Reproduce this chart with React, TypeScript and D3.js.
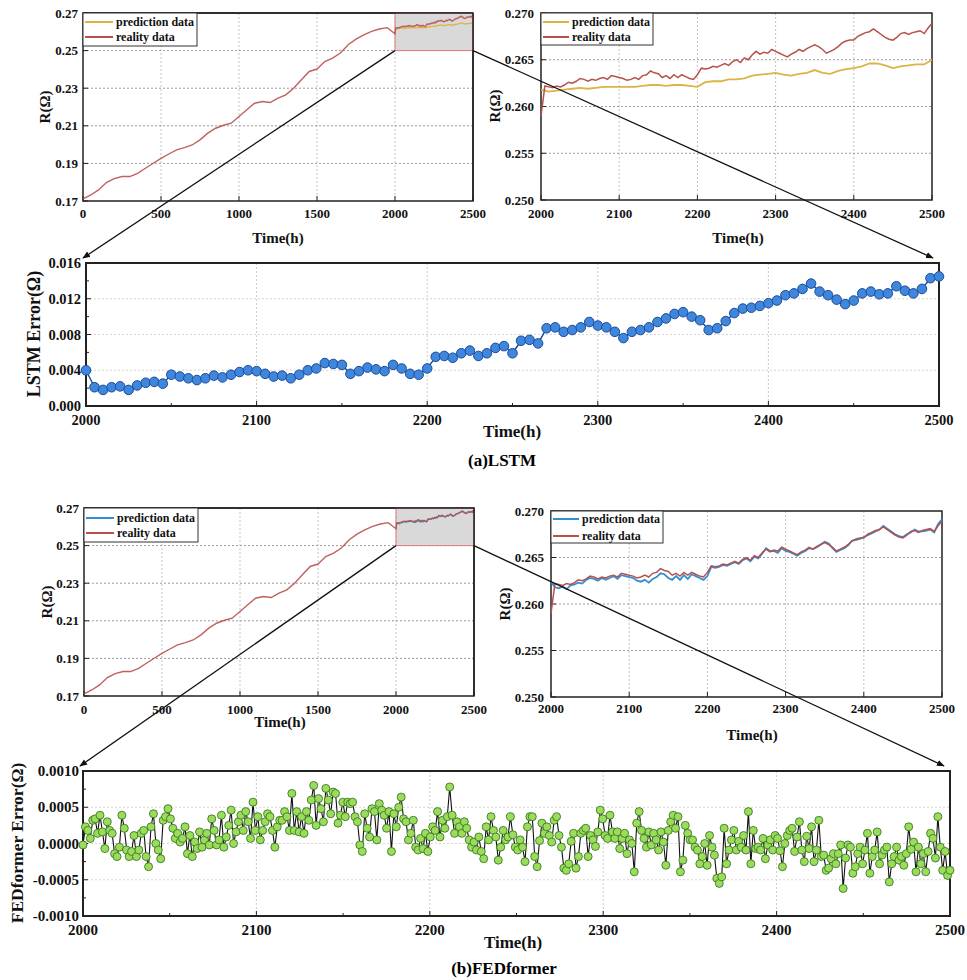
import * as d3 from 'd3';

// ---- data ----
// reality data, 0 .. 1950 h, one value every 50 h
const realityEarly = [
  0.1711, 0.1732, 0.1759, 0.1798, 0.1819, 0.1830, 0.1830, 0.1847, 0.1874, 0.1901,
  0.1927, 0.1950, 0.1972, 0.1984, 0.1998, 0.2025, 0.2061, 0.2087, 0.2103, 0.2114,
  0.2149, 0.2185, 0.2220, 0.2229, 0.2224, 0.2247, 0.2265, 0.2300, 0.2345, 0.2389,
  0.2402, 0.2442, 0.2460, 0.2487, 0.2531, 0.2561, 0.2584, 0.2602, 0.2615, 0.2622,
];

// reality data, 2000 .. 2500 h, every 5 h
const realityZoom = [
  0.2590, 0.2622, 0.2621, 0.2620, 0.2622, 0.2621, 0.2623, 0.2626, 0.2625, 0.2627,
  0.2630, 0.2629, 0.2627, 0.2629, 0.2628, 0.2630, 0.2631, 0.2629, 0.2633, 0.2632,
  0.2631, 0.2630, 0.2628, 0.2629, 0.2631, 0.2629, 0.2633, 0.2634, 0.2638, 0.2636,
  0.2635, 0.2631, 0.2633, 0.2630, 0.2634, 0.2631, 0.2634, 0.2632, 0.2630, 0.2629,
  0.2634, 0.2641, 0.2640, 0.2641, 0.2643, 0.2642, 0.2644, 0.2646, 0.2644, 0.2648,
  0.2650, 0.2647, 0.2652, 0.2650, 0.2655, 0.2659, 0.2656, 0.2658, 0.2657, 0.2661,
  0.2659, 0.2657, 0.2655, 0.2653, 0.2656, 0.2658, 0.2661, 0.2659, 0.2662, 0.2664,
  0.2666, 0.2664, 0.2661, 0.2657, 0.2659, 0.2661, 0.2664, 0.2668, 0.2670, 0.2671,
  0.2671, 0.2675, 0.2677, 0.2679, 0.2680, 0.2683, 0.2680, 0.2677, 0.2674, 0.2672,
  0.2671, 0.2674, 0.2678, 0.2679, 0.2677, 0.2679, 0.2680, 0.2681, 0.2678, 0.2684,
  0.2689,
];

// LSTM prediction, 2000 .. 2500 h, every 10 h
const lstmPred = [
  0.2618, 0.2616, 0.2617, 0.2618, 0.2619, 0.2620, 0.2619, 0.2620, 0.2621, 0.2621,
  0.2621, 0.2621, 0.2621, 0.2622, 0.2623, 0.2623, 0.2622, 0.2623, 0.2623, 0.2622,
  0.2621, 0.2626, 0.2627, 0.2627, 0.2629, 0.2629, 0.2630, 0.2633, 0.2634, 0.2635,
  0.2636, 0.2634, 0.2633, 0.2635, 0.2636, 0.2639, 0.2636, 0.2635, 0.2638, 0.2640,
  0.2641, 0.2643, 0.2646, 0.2646, 0.2644, 0.2641, 0.2643, 0.2644, 0.2645, 0.2645,
  0.2650,
];

// FEDformer prediction, 2000 .. 2500 h, every 5 h
const fedPred = [
  0.2624, 0.2618, 0.2617, 0.2619, 0.2616, 0.2620, 0.2621, 0.2623, 0.2622, 0.2626,
  0.2628, 0.2627, 0.2625, 0.2628, 0.2626, 0.2628, 0.2630, 0.2627, 0.2631, 0.2630,
  0.2629, 0.2628, 0.2625, 0.2624, 0.2626, 0.2623, 0.2627, 0.2629, 0.2633, 0.2632,
  0.2628, 0.2626, 0.2630, 0.2626, 0.2631, 0.2627, 0.2632, 0.2630, 0.2628, 0.2626,
  0.2630, 0.2640, 0.2639, 0.2640, 0.2642, 0.2641, 0.2643, 0.2645, 0.2643, 0.2647,
  0.2649, 0.2646, 0.2651, 0.2649, 0.2654, 0.2660, 0.2657, 0.2657, 0.2655, 0.2660,
  0.2657, 0.2656, 0.2654, 0.2652, 0.2655, 0.2657, 0.2660, 0.2659, 0.2661, 0.2664,
  0.2667, 0.2665, 0.2660, 0.2656, 0.2658, 0.2660, 0.2663, 0.2668, 0.2669, 0.2670,
  0.2672, 0.2674, 0.2676, 0.2678, 0.2680, 0.2684, 0.2681, 0.2678, 0.2675, 0.2673,
  0.2672, 0.2675, 0.2677, 0.2680, 0.2678, 0.2678, 0.2679, 0.2680, 0.2677, 0.2686,
  0.2691,
];

// LSTM error, 2000 .. 2500 h, every 5 h
const lstmError = [
  0.0040, 0.0021, 0.0018, 0.0021, 0.0022, 0.0018, 0.0023, 0.0026, 0.0027, 0.0025,
  0.0035, 0.0033, 0.0031, 0.0029, 0.0031, 0.0034, 0.0032, 0.0035, 0.0038, 0.0040,
  0.0039, 0.0036, 0.0033, 0.0034, 0.0031, 0.0035, 0.0040, 0.0042, 0.0048, 0.0047,
  0.0046, 0.0036, 0.0039, 0.0043, 0.0041, 0.0039, 0.0046, 0.0042, 0.0036, 0.0035,
  0.0042, 0.0055, 0.0056, 0.0054, 0.0059, 0.0062, 0.0056, 0.0059, 0.0065, 0.0067,
  0.0059, 0.0073, 0.0074, 0.0070, 0.0087, 0.0088, 0.0083, 0.0085, 0.0088, 0.0094,
  0.0090, 0.0088, 0.0083, 0.0076, 0.0083, 0.0085, 0.0088, 0.0094, 0.0098, 0.0103,
  0.0105, 0.0100, 0.0096, 0.0085, 0.0087, 0.0095, 0.0104, 0.0109, 0.0110, 0.0112,
  0.0115, 0.0118, 0.0124, 0.0126, 0.0131, 0.0137, 0.0128, 0.0124, 0.0119, 0.0114,
  0.0118, 0.0126, 0.0128, 0.0125, 0.0126, 0.0134, 0.0129, 0.0126, 0.0131, 0.0143,
  0.0145,
];

// FEDformer error in units of 1e-4 ohm, evenly spread over 2000 .. 2500 h
const fedErrorE4 = [
  -0.2, 2.3, 1.8, 0.7, 3.2, 3.4, 1.4, 3.9, 1.6, -0.7,
  3.0, 1.8, 1.4, -1.4, -1.8, -0.5, 3.9, 2.1, -0.9, -1.8, -1.1, 1.1,
  -1.8, -0.9, 1.4, 1.8, -1.8, -3.2, 2.3, 4.1, 0, -0.9, -2.1, 3.2, 3.7, 4.8,
  3.4, 2.1, 0.7, 1.4, 0.2, 0.7, 2.3, -1.4, 1.1, -1.8, 0.2, -0.7,
  1.6, -0.5, 0.5, 1.4, -0.2, 3.4, 1.8, -0.2, 0.5, 3.9, -0.5,
  0.9, 2.5, 4.6, 0, 1.6, 3.0, 3.9, 1.8, 4.4, 3.0, 0.7, 5.7,
  1.8, 3.7, 0.5, 1.8, 3.0, 4.1, 3.7, 1.8, -0.5, 2.3, 3.2,
  3.2, 4.4, 3.7, 1.8, 6.9, 1.8, 4.4, 1.6, 3.7, 1.4, 4.4, 3.2,
  6.0, 8.0, 2.5, 6.2, 4.8, 3.0, 7.6, 6.0, 4.1, 7.1, 6.9, 2.8,
  3.9, 5.7, 3.7, 5.7, 5.5, 5.7, 3.7, 3.0, -0.2, -1.1, 4.1,
  2.1, 0.9, 4.8, 4.4, 0.5, 5.5, 4.6, 3.9, 2.1, 4.4, -1.1, 4.1,
  2.3, 5.0, 6.4, 3.4, 3.0, 0.5, 1.4, 3.2, -0.5, -0.9, 0.7,
  -0.7, 1.4, -1.1, 0.9, 2.3, 1.8, 4.4, 0.9, 3.2, 2.1,
  3.7, 7.8, 3.9, 1.4, 3.0, 2.3, 1.4, 3.0, 2.1, 0.5,
  -0.5, 0.2, -0.9, 0.9, -1.1, -2.1, 2.3, 0.5,
  3.7, 1.8, 0.9, -2.3, -0.5, 1.8, 0.5, 0.9, 3.7, 1.2, -0.5, -0.9,
  0.5, -0.5, -2.5, 2.3, 3.7, 3.7, -1.8, -3.2, 0.4, 2.8, 1.4,
  2.3, 1.1, 0.2, 3.2, 3.7, 1.1, -0.5, -3.4, -3.7, -2.8, 0.3,
  1.4, -3.4, -1.8, 1.4, 1.8, 2.1, -1.8, 1.1, 0.5, -0.4, 1.6,
  4.6, 3.4, 1.1, 0.7, 3.9, 1.6, 0.7, 1.6, -0.7, 0.7,
  1.4, -1.4, 0.5, 0, -3.9, 2.8, 4.4, 1.8, 0.7, -0.5, 1.6,
  -0.2, 1.4, 0.5, -0.9, 1.6, 0.2, -3.0, 1.8, 3.0, 3.9, 2.1,
  3.7, -3.9, -2.3, 2.5, 1.4, 0.5, 0.5, -0.5, -0.9, -2.8, -1.8,
  0, -3.0, 1.1, -0.5, -1.6, -4.8, -5.5, -4.6, 2.1, -2.8, -0.9,
  0.5, 1.8, -0.9, 0.3, -0.5, 1.1, -0.9, 4.4, -2.8, 1.8, -0.7,
  -0.5, -0.9, 0.7, -2.1, -0.2, 0.5, -0.9, 1.1, 0.7, -1.0, -3.2,
  0, 1.1, 1.8, 2.1, -1.1, 0.9, 3.0, -0.9, -2.5, 1.0, -0.7,
  2.3, -2.5, -0.9, 3.2, -1.8, -1.6, -3.7, -3.4, -2.1, -1.4,
  -2.8, -1.4, -0.2, -6.2, -2.0, -0.2, -0.5, -4.1, -3.2, -1.4, -0.5,
  -2.8, -0.9, 1.4, -4.1, -1.8, -0.9, 1.6, -2.8, -1.6, -0.9, -0.5,
  -5.3, -2.8, -1.8, -0.5, -2.3, -1.8, -3.0, -1.4, 2.3, -0.8, 0.2,
  -3.9, -0.5, -2.8, -1.4, -3.9, -1.1, 1.4, 0.7, -2.0, 3.7,
  -0.5, -3.7, -1.1, -4.4, -3.7,
];

// ticks
const fullTimeTicks = [0, 500, 1000, 1500, 2000, 2500];
const fullRTicks = [0.17, 0.19, 0.21, 0.23, 0.25, 0.27];
const zoomTimeTicks = [2000, 2100, 2200, 2300, 2400, 2500];
const zoomRTicks = [0.25, 0.255, 0.26, 0.265, 0.27];
const errTimeMinor = [2050, 2150, 2250, 2350, 2450];
const lstmErrTicks = [0, 0.004, 0.008, 0.012, 0.016];
const lstmErrMinor = [0.002, 0.006, 0.01, 0.014];
const fedErrTicks = [-0.001, -0.0005, 0, 0.0005, 0.001];
const fedErrMinor = [-0.00075, -0.00025, 0.00025, 0.00075];

const FONT = '"Liberation Serif", "Times New Roman", serif';
const RED = '#b8504c';
const YELLOW = '#dcb444';
const BLUE = '#2f8fd2';

type Pt = { t: number; v: number };
type Box = { left: number; right: number; top: number; bottom: number };

const realityAll: Pt[] = [
  ...realityEarly.map((v, i) => ({ t: i * 50, v })),
  ...realityZoom.map((v, i) => ({ t: 2000 + i * 5, v })),
];
const realityTail: Pt[] = realityZoom.map((v, i) => ({ t: 2000 + i * 5, v }));
const lstmPredPts: Pt[] = lstmPred.map((v, i) => ({ t: 2000 + i * 10, v }));
const fedPredPts: Pt[] = fedPred.map((v, i) => ({ t: 2000 + i * 5, v }));
const lstmErrPts: Pt[] = lstmError.map((v, i) => ({ t: 2000 + i * 5, v }));
const fedErrPts: Pt[] = fedErrorE4.map((v, i) => ({
  t: 2000 + (i * 500) / (fedErrorE4.length - 1),
  v: v * 1e-4,
}));

function scales(box: Box, xd: [number, number], yd: [number, number]) {
  const x = d3.scaleLinear().domain(xd).range([box.left, box.right]);
  const y = d3.scaleLinear().domain(yd).range([box.bottom, box.top]);
  return { x, y };
}

function Axes({
  box, x, y, xTicks, yTicks, xMinor = [], yMinor = [], fmtY, fontSize,
  xDy, yDx, xTitle, yTitle, frameWidth = 1.5, hGrid = '#9a9a9a', vGrid = '#c4c4c4',
  titleSize, yTitleSize,
}: {
  box: Box;
  x: d3.ScaleLinear<number, number>;
  y: d3.ScaleLinear<number, number>;
  xTicks: number[];
  yTicks: number[];
  xMinor?: number[];
  yMinor?: number[];
  fmtY: (v: number) => string;
  fontSize: number;
  xDy: number;
  yDx: number;
  xTitle: [number, number];
  yTitle: [number, number, string];
  frameWidth?: number;
  hGrid?: string;
  vGrid?: string;
  titleSize: number;
  yTitleSize?: number;
}) {
  return (
    <g fontFamily={FONT} fontWeight="bold" fill="#111">
      {xTicks.slice(1, -1).map(t => (
        <line key={'vx' + t} x1={x(t)} x2={x(t)} y1={box.top} y2={box.bottom}
          stroke={vGrid} strokeWidth={1} strokeDasharray="2,2" />
      ))}
      {yTicks.slice(1, -1).map(t => (
        <line key={'hy' + t} x1={box.left} x2={box.right} y1={y(t)} y2={y(t)}
          stroke={hGrid} strokeWidth={1} strokeDasharray="2,2" />
      ))}
      {xTicks.map(t => (
        <g key={'tx' + t}>
          <line x1={x(t)} x2={x(t)} y1={box.bottom} y2={box.bottom - 5} stroke="#222" />
          <text x={x(t)} y={box.bottom + xDy} fontSize={fontSize} textAnchor="middle">{t}</text>
        </g>
      ))}
      {xMinor.map(t => (
        <line key={'mx' + t} x1={x(t)} x2={x(t)} y1={box.bottom} y2={box.bottom - 3} stroke="#222" />
      ))}
      {yTicks.map(t => (
        <g key={'ty' + t}>
          <line x1={box.left} x2={box.left + 5} y1={y(t)} y2={y(t)} stroke="#222" />
          <text x={box.left - yDx} y={y(t)} fontSize={fontSize} textAnchor="end"
            dominantBaseline="central">{fmtY(t)}</text>
        </g>
      ))}
      {yMinor.map(t => (
        <line key={'my' + t} x1={box.left} x2={box.left + 3} y1={y(t)} y2={y(t)} stroke="#222" />
      ))}
      <text x={xTitle[0]} y={xTitle[1]} fontSize={titleSize} textAnchor="middle">Time(h)</text>
      <text transform={`translate(${yTitle[0]},${yTitle[1]}) rotate(-90)`}
        fontSize={yTitleSize ?? titleSize}
        textAnchor="middle" dominantBaseline="central">{yTitle[2]}</text>
      <rect x={box.left} y={box.top} width={box.right - box.left} height={box.bottom - box.top}
        fill="none" stroke="#222" strokeWidth={frameWidth} />
    </g>
  );
}

function Legend({ left, top, width, height, lineLen, rows }: {
  left: number; top: number; width: number; height: number; lineLen: number;
  rows: { label: string; color: string; dy: number }[];
}) {
  return (
    <g fontFamily={FONT} fontWeight="bold">
      <rect x={left} y={top} width={width} height={height} fill="white" stroke="#333" strokeWidth={1} />
      {rows.map(r => (
        <g key={r.label}>
          <line x1={left + 2} x2={left + 2 + lineLen} y1={top + r.dy} y2={top + r.dy}
            stroke={r.color} strokeWidth={2} />
          <text x={left + lineLen + 5} y={top + r.dy + 4} fontSize={12} fill="#111">{r.label}</text>
        </g>
      ))}
    </g>
  );
}

function OverviewPanel({ box, predColor, pred, xTitle, yTitle, xDy, legendRows }: {
  box: Box; predColor: string; pred: Pt[]; xTitle: [number, number];
  yTitle: [number, number, string]; xDy: number; legendRows: number[];
}) {
  const { x, y } = scales(box, [0, 2500], [0.17, 0.27]);
  const line = d3.line<Pt>().x(d => x(d.t)).y(d => y(d.v));
  return (
    <g>
      <Axes box={box} x={x} y={y} xTicks={fullTimeTicks} yTicks={fullRTicks}
        fmtY={v => v.toFixed(2)} fontSize={13} xDy={xDy} yDx={5}
        xTitle={xTitle} yTitle={yTitle} titleSize={15} />
      <rect x={x(2000)} y={y(0.27)} width={x(2500) - x(2000)} height={y(0.25) - y(0.27)}
        fill="#d9d9d9" stroke="#e07a78" strokeWidth={1} />
      <path d={line(pred) || ''} fill="none" stroke={predColor} strokeWidth={1.3} />
      <path d={line(realityAll) || ''} fill="none" stroke={RED} strokeWidth={1.4} opacity={0.9} />
      <line x1={x(2500)} x2={x(2500)} y1={box.top} y2={box.bottom} stroke="#222" strokeWidth={1.5} />
      <line x1={box.left} x2={box.right} y1={box.top} y2={box.top} stroke="#222" strokeWidth={1.5} />
      <Legend left={box.left} top={box.top} width={114} height={legendRows[2]} lineLen={28}
        rows={[
          { label: 'prediction data', color: predColor, dy: legendRows[0] },
          { label: 'reality data', color: RED, dy: legendRows[1] },
        ]} />
    </g>
  );
}

function ZoomPanel({ box, predColor, pred, xTitle, yTitle, xDy, legendRows }: {
  box: Box; predColor: string; pred: Pt[]; xTitle: [number, number];
  yTitle: [number, number, string]; xDy: number; legendRows: number[];
}) {
  const { x, y } = scales(box, [2000, 2500], [0.25, 0.27]);
  const line = d3.line<Pt>().x(d => x(d.t)).y(d => y(d.v));
  return (
    <g>
      <Axes box={box} x={x} y={y} xTicks={zoomTimeTicks} yTicks={zoomRTicks}
        fmtY={v => v.toFixed(3)} fontSize={13} xDy={xDy} yDx={7}
        xTitle={xTitle} yTitle={yTitle} titleSize={15} />
      <path d={line(pred) || ''} fill="none" stroke={predColor} strokeWidth={1.8} />
      <path d={line(realityTail) || ''} fill="none" stroke={RED} strokeWidth={1.5} />
      <Legend left={box.left} top={box.top} width={112} height={legendRows[2]} lineLen={26}
        rows={[
          { label: 'prediction data', color: predColor, dy: legendRows[0] },
          { label: 'reality data', color: RED, dy: legendRows[1] },
        ]} />
    </g>
  );
}

function LstmErrorPanel({ box }: { box: Box }) {
  const { x, y } = scales(box, [2000, 2500], [0, 0.016]);
  const line = d3.line<Pt>().x(d => x(d.t)).y(d => y(d.v));
  return (
    <g>
      <Axes box={box} x={x} y={y} xTicks={zoomTimeTicks} yTicks={lstmErrTicks}
        xMinor={errTimeMinor} yMinor={lstmErrMinor}
        fmtY={v => v.toFixed(3)} fontSize={14.5} xDy={19} yDx={5}
        xTitle={[512, 437]} yTitle={[34, 334, 'LSTM Error(Ω)']} titleSize={17} yTitleSize={18}
        frameWidth={2} hGrid="#d6d6d6" vGrid="#cccccc" />
      <path d={line(lstmErrPts) || ''} fill="none" stroke="#1d4f9e" strokeWidth={1.5} />
      {lstmErrPts.map((d, i) => (
        <circle key={i} cx={x(d.t)} cy={y(d.v)} r={4.8} fill="#3f86dd" stroke="#1c4c9a" strokeWidth={1} />
      ))}
    </g>
  );
}

function FedErrorPanel({ box }: { box: Box }) {
  const { x, y } = scales(box, [2000, 2500], [-0.001, 0.001]);
  const line = d3.line<Pt>().x(d => x(d.t)).y(d => y(d.v));
  return (
    <g>
      <Axes box={box} x={x} y={y} xTicks={zoomTimeTicks} yTicks={fedErrTicks}
        xMinor={errTimeMinor} yMinor={fedErrMinor}
        fmtY={v => v.toFixed(4)} fontSize={15} xDy={19} yDx={4}
        xTitle={[513, 948]} yTitle={[17, 843, 'FEDformer Error(Ω)']} titleSize={17} yTitleSize={17.5}
        frameWidth={2} hGrid="#d6d6d6" vGrid="#cccccc" />
      <path d={line(fedErrPts) || ''} fill="none" stroke="#111" strokeWidth={1.1} />
      {fedErrPts.map((d, i) => (
        <circle key={i} cx={x(d.t)} cy={y(d.v)} r={4} fill="#9bdc5c" stroke="#3d7a22" strokeWidth={0.9} />
      ))}
    </g>
  );
}

const lstmTL: Box = { left: 83, right: 473, top: 13, bottom: 201 };
const lstmTR: Box = { left: 541, right: 932, top: 13, bottom: 200 };
const lstmErr: Box = { left: 86, right: 939, top: 263, bottom: 406 };
const fedTL: Box = { left: 84, right: 474, top: 508, bottom: 696 };
const fedTR: Box = { left: 551, right: 942, top: 511, bottom: 697 };
const fedErr: Box = { left: 83, right: 950, top: 771, bottom: 916 };

function Connectors({ from, to }: { from: Box; to: Box }) {
  const { x, y } = scales(from, [0, 2500], [0.17, 0.27]);
  return (
    <g stroke="#111" strokeWidth={1.3} markerEnd="url(#arrow)">
      <line x1={x(2000)} y1={y(0.25)} x2={to.left - 3} y2={to.top - 5} />
      <line x1={x(2500)} y1={y(0.25)} x2={to.right - 6} y2={to.top - 5} />
    </g>
  );
}

export default function App() {
  return (
    <svg width={967} height={980} style={{ position: 'absolute', left: 0, top: 0, background: 'white' }}>
      <defs>
        <marker id="arrow" viewBox="0 0 10 10" refX="9" refY="5" markerWidth="6" markerHeight="6"
          orient="auto">
          <path d="M0,1 L10,5 L0,9 z" fill="#111" stroke="none" />
        </marker>
      </defs>
      <rect width={967} height={980} fill="white" />

      <OverviewPanel box={lstmTL} predColor={YELLOW} pred={lstmPredPts}
        xTitle={[278, 243]} yTitle={[45, 107, 'R(Ω)']} xDy={17} legendRows={[9, 24, 33]} />
      <ZoomPanel box={lstmTR} predColor={YELLOW} pred={lstmPredPts}
        xTitle={[738, 243]} yTitle={[495, 106, 'R(Ω)']} xDy={18} legendRows={[9, 24, 32]} />
      <LstmErrorPanel box={lstmErr} />
      <text x={502} y={466} fontFamily={FONT} fontWeight="bold" fontSize={17} textAnchor="middle">(a)LSTM</text>

      <OverviewPanel box={fedTL} predColor={BLUE} pred={fedPredPts}
        xTitle={[280, 727]} yTitle={[47, 602, 'R(Ω)']} xDy={18} legendRows={[10, 25, 34]} />
      <ZoomPanel box={fedTR} predColor={BLUE} pred={fedPredPts}
        xTitle={[752, 740]} yTitle={[505, 604, 'R(Ω)']} xDy={16} legendRows={[8, 25, 32]} />
      <FedErrorPanel box={fedErr} />
      <text x={504} y={974} fontFamily={FONT} fontWeight="bold" fontSize={17} textAnchor="middle">(b)FEDformer</text>

      <Connectors from={lstmTL} to={lstmErr} />
      <Connectors from={fedTL} to={fedErr} />
    </svg>
  );
}
